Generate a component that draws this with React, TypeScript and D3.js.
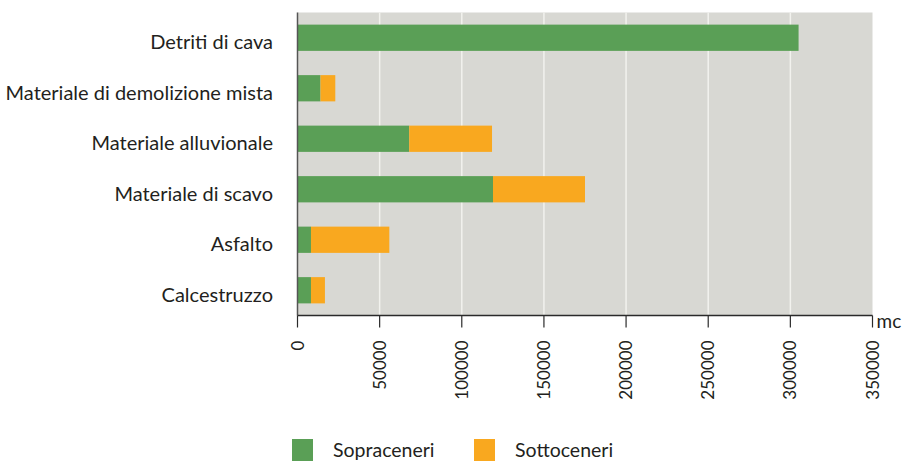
import React from "react";
import * as d3 from "d3";

const categories = [
  "Detriti di cava",
  "Materiale di demolizione mista",
  "Materiale alluvionale",
  "Materiale di scavo",
  "Asfalto",
  "Calcestruzzo",
];
const sopraceneri = [305000, 14000, 68000, 119000, 8200, 8200];
const sottoceneri = [0, 9000, 50400, 56000, 47700, 8500];
const seriesNames = ["Sopraceneri", "Sottoceneri"];
const seriesColors = ["#5a9f56", "#f9a81f"];
const xTicks = [0, 50000, 100000, 150000, 200000, 250000, 300000, 350000];
const unitLabel = "mc";

const W = 904;
const H = 461;
const left = 297.5;
const right = 872.5;
const top = 12.5;
const bottom = 315.5;
const FONT = "Lato, 'Open Sans', sans-serif";

export default function App() {
  const x = d3.scaleLinear().domain([0, 350000]).range([left, right]);
  const y = d3
    .scaleBand<string>()
    .domain(categories)
    .range([top, bottom])
    .paddingInner(0.48)
    .paddingOuter(0.24);

  const rows = categories.map((c, i) => ({
    c,
    vals: [sopraceneri[i], sottoceneri[i]],
  }));

  return (
    <svg
      width={W}
      height={H}
      style={{ position: "absolute", left: 0, top: 0, display: "block" }}
    >
      <rect x={0} y={0} width={W} height={H} fill="#ffffff" />
      <rect
        x={left}
        y={top}
        width={right - left}
        height={bottom - top}
        fill="#d8d8d3"
      />
      {xTicks.map((t) =>
        t > 0 && t < 350000 ? (
          <line
            key={"g" + t}
            x1={x(t)}
            x2={x(t)}
            y1={top}
            y2={bottom}
            stroke="#f2f2ee"
            strokeWidth={1.5}
          />
        ) : null
      )}
      {rows.map((r) => {
        let acc = 0;
        return r.vals.map((v, j) => {
          const x0 = x(acc);
          acc += v;
          const x1 = x(acc);
          return v > 0 ? (
            <rect
              key={r.c + j}
              x={x0}
              y={y(r.c)}
              width={x1 - x0}
              height={y.bandwidth()}
              fill={seriesColors[j]}
            />
          ) : null;
        });
      })}
      <line x1={left} x2={left} y1={top} y2={bottom} stroke="#555" strokeWidth={1.5} />
      <line x1={left} x2={right} y1={bottom} y2={bottom} stroke="#2a2a2a" strokeWidth={1.5} />
      {xTicks.map((t) => (
        <g key={"t" + t}>
          <line
            x1={x(t)}
            x2={x(t)}
            y1={bottom}
            y2={bottom + 12}
            stroke="#2a2a2a"
            strokeWidth={1.2}
          />
          <text
            transform={`translate(${x(t) + 6},${bottom + 25}) rotate(-90)`}
            textAnchor="end"
            fontFamily={FONT}
            fontSize={17}
            fill="#231f20"
          >
            {t}
          </text>
        </g>
      ))}
      <text
        x={right + 4}
        y={bottom + 12}
        fontFamily={FONT}
        fontSize={19}
        fill="#231f20"
      >
        {unitLabel}
      </text>
      {categories.map((c) => (
        <text
          key={"l" + c}
          x={273}
          y={(y(c) as number) + y.bandwidth() / 2 + 11.5}
          textAnchor="end"
          fontFamily={FONT}
          fontSize={20}
          fill="#231f20"
        >
          {c}
        </text>
      ))}
      {seriesNames.map((s, i) => {
        const lx = [292, 474][i];
        return (
          <g key={"lg" + s}>
            <rect x={lx} y={439} width={21} height={22} fill={seriesColors[i]} />
            <text
              x={lx + 41}
              y={457}
              fontFamily={FONT}
              fontSize={19.5}
              fill="#231f20"
            >
              {s}
            </text>
          </g>
        );
      })}
    </svg>
  );
}
